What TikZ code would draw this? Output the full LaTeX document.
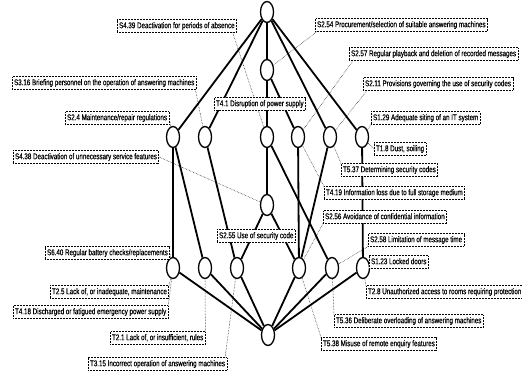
\documentclass[tikz,border=0pt]{standalone}
\usepackage{fontspec}
\newfontfamily\lblfont[FakeStretch=0.75,FakeBold=0.4]{Liberation Sans}
\usetikzlibrary{shapes.geometric,backgrounds}

\tikzset{
  concept/.style={draw, ellipse, line width=1.3pt, fill=white,
    minimum width=13pt, minimum height=21pt, inner sep=0pt},
  lbl/.style={draw, densely dotted, line width=0.5pt, fill=white, anchor=west,
    inner xsep=1.8pt, inner ysep=2.3pt, text height=6.2pt, text depth=1.8pt,
    font=\lblfont\fontsize{8.3}{9}\selectfont},
  lattice edge/.style={line width=1.8pt},
  leader/.style={densely dotted, line width=0.5pt}
}

\begin{document}
\begin{tikzpicture}[x=1pt, y=-1pt]
\useasboundingbox (0,0) rectangle (522,379);

% concept nodes of the lattice
\node[concept] (top) at (267,12) {};
\node[concept] (s254) at (267,70) {};
\node[concept] (a1) at (173,137) {};
\node[concept] (a2) at (205,137) {};
\node[concept] (a3) at (267,137) {};
\node[concept] (a4) at (298,137) {};
\node[concept] (a5) at (330,137) {};
\node[concept] (a6) at (362,137) {};
\node[concept] (mid) at (267,205) {};
\node[concept] (b1) at (173,268) {};
\node[concept] (b2) at (205,268) {};
\node[concept] (b3) at (237,268) {};
\node[concept] (b4) at (299,268) {};
\node[concept] (b5) at (332,268) {};
\node[concept] (b6) at (363,268) {};
\node[concept] (bot) at (268,335) {};

% safeguard and threat labels
\node[lbl] (l439) at (117,26) {S4.39 Deactivation for periods of absence};
\node[lbl] (l254) at (315,25) {S2.54 Procurement/selection of suitable answering machines};
\node[lbl] (l257) at (349,54) {S2.57 Regular playback and deletion of recorded messages};
\node[lbl] (l316) at (12,83) {S3.16 Briefing personnel on the operation of answering machines};
\node[lbl] (t41) at (214,104) {T4.1 Disruption of power supply};
\node[lbl] (l211) at (363,84) {S2.11 Provisions governing the use of security codes};
\node[lbl] (l24) at (65,118) {S2.4 Maintenance/repair regulations};
\node[lbl] (l129) at (371,118) {S1.29 Adequate siting of an IT system};
\node[lbl] (t18) at (374,149) {T1.8 Dust, soiling};
\node[lbl] (l438) at (13,157) {S4.38 Deactivation of unnecessary service features};
\node[lbl] (t537) at (341,170) {T5.37 Determining security codes};
\node[lbl] (t419) at (324,193) {T4.19 Information loss due to full storage medium};
\node[lbl] (l256) at (323,217) {S2.56 Avoidance of confidential information};
\node[lbl] (l255) at (217,236) {S2.55 Use of security code};
\node[lbl] (l258) at (368,240) {S2.58 Limitation of message time};
\node[lbl] (l123) at (369,262) {S1.23 Locked doors};
\node[lbl] (l640) at (45,253) {S6.40 Regular battery checks/replacements};
\node[lbl] (t25) at (50,292) {T2.5 Lack of, or inadequate, maintenance};
\node[lbl] (t418) at (13,312) {T4.18 Discharged or fatigued emergency power supply};
\node[lbl] (t21) at (110,338) {T2.1 Lack of, or insufficient, rules};
\node[lbl] (t315) at (88,364) {T3.15 Incorrect operation of answering machines};
\node[lbl] (t28) at (366,292) {T2.8 Unauthorized access to rooms requiring protection};
\node[lbl] (t536) at (334,321) {T5.36 Deliberate overloading of answering machines};
\node[lbl] (t538) at (321,344) {T5.38 Misuse of remote enquiry features};

\begin{scope}[on background layer]
  % lattice edges
  \foreach \u/\v in {top/a1, top/a2, top/s254, top/a5, top/a6,
                     s254/a3, s254/a4,
                     a1/b1, a1/b2, a2/b3, a3/mid, a3/b5, a4/b4, a5/b4, a6/b6,
                     mid/b3, mid/b4,
                     b1/bot, b2/bot, b3/bot, b4/bot, b5/bot, b6/bot}
    \draw[lattice edge] (\u) -- (\v);

  % leaders from labels to their concepts
  \draw[leader] ([xshift=-4pt]l439.south east) -- (a3);
  \draw[leader] ([xshift=2pt]l254.south west) -- (s254);
  \draw[leader] ([xshift=4pt]l257.south west) -- (a4);
  \draw[leader] ([xshift=-1pt]l316.south east) -- (a2);
  \draw[leader] ([xshift=4pt]l211.south west) -- (a5);
  \draw[leader] (l24.east) -- (a1);
  \draw[leader] (l129.south west) -- (a6);
  \draw[leader] (t18.west) -- (a6);
  \draw[leader] (l438.east) -- (mid);
  \draw[leader] (t537.north west) -- (a5);
  \draw[leader] (t419.north west) -- (a4);
  \draw[leader] (l256.south west) -- (b4);
  \draw[leader] (l255.north) -- (mid);
  \draw[leader] (l258.south west) -- (b5);
  \draw[leader] (l123.west) -- (b6);
  \draw[leader] (l640.east) -- (b1);
  \draw[leader] (t25.north east) -- (b1);
  \draw[leader] (t418.north east) -- (b1);
  \draw[leader] (t21.north east) -- (b2);
  \draw[leader] ([xshift=-2pt]t315.north east) -- (b3);
  \draw[leader] (t28.north west) -- (b6);
  \draw[leader] (t536.north west) -- (b5);
  \draw[leader] (t538.north west) -- (b4);
\end{scope}
\end{tikzpicture}
\end{document}
